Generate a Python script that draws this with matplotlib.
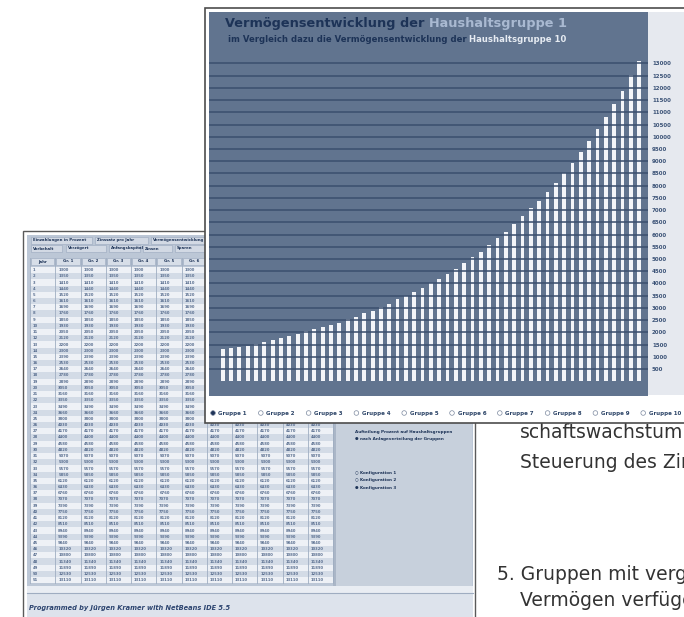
import matplotlib
matplotlib.use("Agg")
import matplotlib.pyplot as plt
from matplotlib.patches import Rectangle, Circle

W, H = 684, 617

# Vermoegen der Haushaltsgruppe 1 je Jahr
years = list(range(1, 52))
vermoegen = [1300, 1350, 1410, 1440, 1520, 1610, 1690, 1760, 1850, 1930,
             2050, 2120, 2200, 2300, 2390, 2530, 2640, 2780, 2890, 3050,
             3160, 3350, 3490, 3660, 3800, 4030, 4170, 4400, 4580, 4820,
             5070, 5300, 5570, 5850, 6120, 6430, 6760, 7070, 7390, 7750,
             8120, 8510, 8940, 9390, 9840, 10320, 10800, 11340, 11890, 12530,
             13110]
y_ticks = [500, 1000, 1500, 2000, 2500, 3000, 3500, 4000, 4500, 5000,
           5500, 6000, 6500, 7000, 7500, 8000, 8500, 9000, 9500, 10000,
           10500, 11000, 11500, 12000, 12500, 13000]
gruppen = ["Gruppe 1", "Gruppe 2", "Gruppe 3", "Gruppe 4", "Gruppe 5",
           "Gruppe 6", "Gruppe 7", "Gruppe 8", "Gruppe 9", "Gruppe 10"]

tabs_row1 = ["Einzahlungen in Prozent", "Zinssatz pro Jahr", "Vermögensentwicklung"]
tabs_row2 = ["Vorbehalt", "Verzögert", "Anfangskapital", "Zinsen", "Sparen"]
table_head = ["Jahr", "Gr. 1", "Gr. 2", "Gr. 3", "Gr. 4", "Gr. 5", "Gr. 6",
              "Gr. 7", "Gr. 8", "Gr. 9", "Gr. 10", "Ges."]
side_lines = ["Aufteilung Prozent auf Haushaltsgruppen",
              "\u25cf nach Anlageverteilung der Gruppen"]
side_radios = ["\u25cb Konfiguration 1", "\u25cb Konfiguration 2", "\u25cf Konfiguration 3"]
footer = "Programmed by Jürgen Kramer with NetBeans IDE 5.5"
page_text = [(520, 433, "schaftswachstum"),
             (520, 462, "Steuerung des Zins"),
             (497, 574, "5. Gruppen mit vergleichbarem"),
             (520, 601, "Vermögen verfügen")]

NAVY = "#1d3357"
PANEL = "#61748f"

fig = plt.figure(figsize=(W / 100, H / 100), dpi=100)


def box(x0, y0, x1, y1):
    return [x0 / W, 1 - y1 / H, (x1 - x0) / W, (y1 - y0) / H]


def pixel_axes(z):
    a = fig.add_axes([0, 0, 1, 1], zorder=z)
    a.set_xlim(0, W)
    a.set_ylim(H, 0)
    a.axis("off")
    a.patch.set_alpha(0)
    return a


# ---- back window (table) ----
ab = pixel_axes(0)
ab.add_patch(Rectangle((23, 231), 452, 400, fc="white", ec="#5a5a5a", lw=1.0))
ab.add_patch(Rectangle((27, 235), 446, 390, fc="#bcc7d6", ec="none"))

tx = [(31, 92), (95, 148), (151, 210)]
for (x0, x1), s in zip(tx, tabs_row1):
    ab.add_patch(Rectangle((x0, 237), x1 - x0, 7, fc="#d2d9e4", ec="#9aa8bd", lw=0.4))
    ab.text(x0 + 2, 240.5, s, fontsize=2.8, fontweight="bold", color=NAVY, va="center")
tx = [(31, 62), (66, 106), (109, 140), (143, 172), (175, 205)]
for (x0, x1), s in zip(tx, tabs_row2):
    ab.add_patch(Rectangle((x0, 245), x1 - x0, 7, fc="#d2d9e4", ec="#9aa8bd", lw=0.4))
    ab.text(x0 + 2, 248.5, s, fontsize=2.8, fontweight="bold", color=NAVY, va="center")

col_w = 25.25
for c, s in enumerate(table_head):
    x0 = 30 + c * col_w
    ab.add_patch(Rectangle((x0 + 1, 258), col_w - 2, 7, fc="#d7dee8", ec="#9aa8bd", lw=0.4))
    ab.text(x0 + col_w / 2, 261.5, s, fontsize=2.8, fontweight="bold", color=NAVY,
            ha="center", va="center")

row_h = 6.2
for r, (yr, val) in enumerate(zip(years, vermoegen)):
    y0 = 267 + r * row_h
    ab.add_patch(Rectangle((30, y0), 303, row_h, ec="none",
                           fc="#eef1f6" if r % 2 == 0 else "#d3dbe6"))
    cells = [str(yr)] + [str(val)] * (len(table_head) - 1)
    for c, s in enumerate(cells):
        ab.text(30 + c * col_w + 3, y0 + row_h / 2, s, fontsize=2.7,
                fontweight="bold", color="#5a6f90", va="center")
for c in range(len(table_head) + 1):
    ab.plot([30 + c * col_w] * 2, [258, 583], color="#9fadc1", lw=0.6)

ab.add_patch(Rectangle((336, 258), 136, 328, fc="#c7d0dc", ec="none"))
ab.add_patch(Rectangle((333, 258), 3, 328, fc="#aab6c7", ec="none"))
for i, s in enumerate(side_lines):
    ab.text(355, 432 + i * 7, s, fontsize=3.0, fontweight="bold", color=NAVY, va="center")
for i, s in enumerate(side_radios):
    ab.text(355, 473 + i * 7.5, s, fontsize=3.0, fontweight="bold", color=NAVY, va="center")

ab.add_patch(Rectangle((27, 586), 446, 7, fc="#e9edf3", ec="none"))
ab.plot([27, 473], [593, 593], color="#9fadc1", lw=0.8)
ab.add_patch(Rectangle((27, 594), 446, 30, fc="#dde3ec", ec="none"))
ab.text(29, 608, footer, fontsize=4.8, fontweight="bold", fontstyle="italic",
        color="#2d4570", va="center")

# page text on the right
for x, y, s in page_text:
    ab.text(x, y, s, fontsize=13.5, color="#333333", va="center", family="DejaVu Sans")

# ---- front window ----
af = pixel_axes(1)
af.add_patch(Rectangle((205, 8), 500, 415, fc="white", ec="#4d4d4d", lw=1.2))
af.add_patch(Rectangle((648, 12), 60, 383, fc="#e6e9ef", ec="none"))
for i, g in enumerate(gruppen):
    x = 213 + i * 47.8
    af.add_patch(Circle((x, 413), 2.3, fc=NAVY if i == 0 else "white",
                        ec="#7d8aa0", lw=0.5))
    af.text(x + 5.5, 413, g, fontsize=4.0, fontweight="bold", color="#2c4467", va="center")

# ---- chart ----
ax = fig.add_axes(box(209, 12, 648, 396), zorder=2)
ax.set_facecolor(PANEL)
ax.bar(years, vermoegen, width=0.45, color="#f3f5f9", zorder=1)
ax.set_xlim(-0.645, 52.06)
ax.set_ylim(-605, 15106)
ax.set_xticks([])
ax.set_yticks(y_ticks)
ax.yaxis.tick_right()
ax.tick_params(axis="y", length=0, pad=2.9, labelsize=4.0, labelcolor="#3d5478")
for lbl in ax.get_yticklabels():
    lbl.set_fontweight("bold")
ax.grid(axis="y", color="#3b4f6e", lw=1.4, alpha=0.8)
ax.set_axisbelow(False)
for sp in ax.spines.values():
    sp.set_visible(False)

# ---- titles ----
at = pixel_axes(3)
rend = fig.canvas.get_renderer()


def two_part(x, y, s1, c1, s2, c2, size):
    t1 = at.text(x, y, s1, fontsize=size, fontweight="bold", color=c1, va="center")
    bb = t1.get_window_extent(renderer=rend)
    at.text(bb.x1 + size * 0.45, y, s2, fontsize=size, fontweight="bold", color=c2, va="center")


two_part(225, 24, "Vermögensentwicklung der", NAVY, "Haushaltsgruppe 1", "#a9b9d1", 9.3)
two_part(228, 39.5, "im Vergleich dazu die Vermögensentwicklung der", NAVY,
         "Haushaltsgruppe 10", "#e6ebf2", 6.1)

fig.savefig("out.png", dpi=100)
